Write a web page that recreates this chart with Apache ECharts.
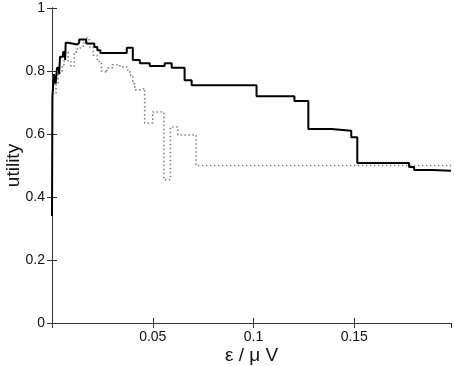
<!DOCTYPE html>
<html>
<head>
<meta charset="utf-8">
<script src="https://cdn.jsdelivr.net/npm/echarts@6/dist/echarts.min.js"></script>
<style>
  html, body { margin: 0; padding: 0; background: #fff; }
  #chart { width: 454px; height: 366px; }
</style>
</head>
<body>
<div id="chart"></div>
<script>
// solid curve: [epsilon, utility], value holds until next epsilon
const solidData = [
  [0, 0.34], [0.0002, 0.72], [0.001, 0.79], [0.0018, 0.76], [0.0025, 0.81],
  [0.0035, 0.79], [0.004, 0.845], [0.0055, 0.86], [0.0065, 0.835], [0.0068, 0.89],
  [0.008, 0.884], [0.0125, 0.89], [0.0135, 0.9], [0.017, 0.887], [0.021, 0.876],
  [0.0225, 0.866], [0.024, 0.857], [0.0371, 0.874], [0.0401, 0.835], [0.0436, 0.825],
  [0.0485, 0.816], [0.0559, 0.825], [0.0594, 0.81], [0.0658, 0.771], [0.0693, 0.755],
  [0.1015, 0.72], [0.1203, 0.705], [0.1272, 0.616], [0.1386, 0.61], [0.1485, 0.59],
  [0.1515, 0.508], [0.1772, 0.495], [0.1797, 0.486], [0.1886, 0.483], [0.198, 0.483]
];

// dotted curve
const dottedData = [
  [0, 0.7], [0.0005, 0.73], [0.002, 0.76], [0.003, 0.79], [0.004, 0.8],
  [0.005, 0.82], [0.006, 0.84], [0.0068, 0.86], [0.008, 0.83], [0.0094, 0.815],
  [0.011, 0.86], [0.0125, 0.873], [0.0139, 0.876], [0.0155, 0.89], [0.0168, 0.905],
  [0.0185, 0.876], [0.0205, 0.85], [0.0225, 0.83], [0.0245, 0.8], [0.026, 0.794],
  [0.0272, 0.81], [0.03, 0.82], [0.0337, 0.813], [0.0371, 0.803], [0.0386, 0.787],
  [0.0401, 0.76], [0.0411, 0.74], [0.0445, 0.746], [0.046, 0.635], [0.05, 0.67],
  [0.0555, 0.455], [0.0588, 0.622], [0.0624, 0.597], [0.0715, 0.5], [0.198, 0.5]
];

const xMax = 0.198;
const yTicks = [0, 0.2, 0.4, 0.6, 0.8, 1];

const chart = echarts.init(document.getElementById('chart'));

const axisColor = '#333';
const font = '"Liberation Sans", Arial, sans-serif';

const option = {
  animation: false,
  grid: { left: 52, right: 3, top: 8, bottom: 43, outerBoundsMode: 'none', containLabel: false },
  xAxis: [
    {
      type: 'value',
      min: 0,
      max: xMax,
      interval: 0.05,
      name: 'ε / μ V',
      nameLocation: 'middle',
      nameGap: 23,
      nameMoveOverlap: false,
      nameTextStyle: { fontFamily: font, fontSize: 19, color: '#111' },
      axisLine: { lineStyle: { color: axisColor, width: 1 } },
      axisTick: { inside: true, length: 5, lineStyle: { color: axisColor } },
      axisLabel: {
        fontFamily: font, fontSize: 14, color: '#111', margin: 7,
        showMaxLabel: false,
        formatter: v => (v === 0 ? '' : String(+v.toFixed(2)))
      },
      splitLine: { show: false }
    },
    {
      type: 'value',
      position: 'top',
      min: 0,
      max: xMax,
      interval: 0.05,
      axisLine: { show: true, lineStyle: { color: axisColor, width: 1 } },
      axisTick: { inside: true, length: 5, lineStyle: { color: axisColor } },
      axisLabel: { show: false },
      splitLine: { show: false }
    }
  ],
  yAxis: [
    {
      type: 'value',
      min: yTicks[0],
      max: yTicks[yTicks.length - 1],
      interval: 0.2,
      name: 'utility',
      nameLocation: 'middle',
      nameGap: 29,
      nameMoveOverlap: false,
      nameTextStyle: { fontFamily: font, fontSize: 19, color: '#111' },
      axisLine: { show: true, lineStyle: { color: axisColor, width: 1 } },
      axisTick: { show: true, inside: true, length: 5, lineStyle: { color: axisColor } },
      axisLabel: { fontFamily: font, fontSize: 14, color: '#111', margin: 7 },
      splitLine: { show: false }
    },
    {
      type: 'value',
      position: 'right',
      min: 0,
      max: 1,
      interval: 0.2,
      axisLine: { show: true, lineStyle: { color: axisColor, width: 1 } },
      axisTick: { show: true, inside: true, length: 5, lineStyle: { color: axisColor } },
      axisLabel: { show: false },
      splitLine: { show: false }
    }
  ],
  series: [
    {
      name: 'dotted',
      type: 'line',
      step: 'end',
      showSymbol: false,
      data: dottedData,
      lineStyle: { color: '#808080', width: 1.6, type: [1.5, 2.5] }
    },
    {
      name: 'solid',
      type: 'line',
      step: 'end',
      showSymbol: false,
      data: solidData,
      lineStyle: { color: '#000', width: 2 }
    }
  ]
};

chart.setOption(option);
</script>
</body>
</html>
